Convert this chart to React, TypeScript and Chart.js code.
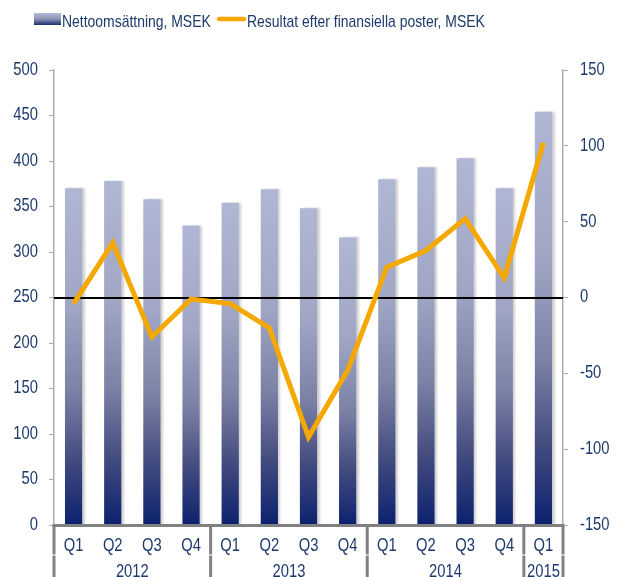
import React, { useEffect, useRef } from 'react';
import { Chart, registerables } from 'chart.js';

Chart.register(...registerables);

// ---- data ----
const quarters = ['Q1', 'Q2', 'Q3', 'Q4', 'Q1', 'Q2', 'Q3', 'Q4', 'Q1', 'Q2', 'Q3', 'Q4', 'Q1'];
const yearLabels = ['2012', '2013', '2014', '2015'];
const yearSpans = [4, 4, 4, 1];
const revenue = [370, 378, 358, 329, 354, 369, 348, 316, 380, 393, 403, 370, 454];
const result = [-4, 36, -26, -1, -4, -20, -92, -48, 20, 31, 52, 13, 102];
const revenueLabel = 'Nettoomsättning, MSEK';
const resultLabel = 'Resultat efter finansiella poster, MSEK';

const FONT = "'Liberation Sans', Arial, sans-serif";
const NARROW = 0.82; // Arial Narrow look: horizontally condensed Arial metrics
const NAVY = '#1c3a6c';
const AXIS_GRAY = '#a9acbd';
const BOX_GRAY = '#818181';
const ORANGE = '#f5a800';

function addBarStops(g: CanvasGradient) {
  g.addColorStop(0, '#b0b7d5');
  g.addColorStop(0.35, '#a0a6c4');
  g.addColorStop(0.6, '#7c82a6');
  g.addColorStop(0.8, '#454d80');
  g.addColorStop(1, '#0c216e');
}

const decoPlugin = {
  id: 'deco',
  beforeDatasetDraw(chart: any, args: any) {
    if (args.meta.type === 'bar') {
      const ctx = chart.ctx;
      ctx.save();
      ctx.shadowColor = 'rgba(0,0,0,0.18)';
      ctx.shadowOffsetX = 2.5;
      ctx.shadowOffsetY = 0;
      ctx.shadowBlur = 2;
    }
  },
  afterDatasetDraw(chart: any, args: any) {
    if (args.meta.type === 'bar') {
      const ctx = chart.ctx;
      ctx.restore();
      const { left, right } = chart.chartArea;
      const y = Math.round(chart.scales.y2.getPixelForValue(0));
      ctx.save();
      ctx.strokeStyle = '#000';
      ctx.lineWidth = 2;
      ctx.beginPath();
      ctx.moveTo(left, y);
      ctx.lineTo(right, y);
      ctx.stroke();
      ctx.restore();
    }
  },
  afterDraw(chart: any) {
    const ctx = chart.ctx;
    const { left, right, bottom } = chart.chartArea;
    const xs = chart.scales.x;
    const H = chart.height;
    ctx.save();
    const edges: number[] = [left];
    let idx = 0;
    yearSpans.forEach((span) => {
      idx += span;
      if (idx >= quarters.length) edges.push(right);
      else edges.push((xs.getPixelForValue(idx - 1) + xs.getPixelForValue(idx)) / 2);
    });
    ctx.strokeStyle = BOX_GRAY;
    ctx.lineWidth = 3;
    edges.forEach((x) => {
      ctx.beginPath();
      ctx.moveTo(x, bottom);
      ctx.lineTo(x, bottom + 29);
      ctx.stroke();
      ctx.beginPath();
      ctx.moveTo(x, bottom + 31);
      ctx.lineTo(x, H + 2);
      ctx.stroke();
    });
    ctx.strokeStyle = '#c4c4c4';
    edges.forEach((x) => {
      ctx.beginPath();
      ctx.moveTo(x, bottom + 29);
      ctx.lineTo(x, bottom + 31);
      ctx.stroke();
    });
    ctx.strokeStyle = BOX_GRAY;
    ctx.lineWidth = 3;
    ctx.beginPath();
    ctx.moveTo(left - 1.5, bottom + 0.5);
    ctx.lineTo(right + 1.5, bottom + 0.5);
    ctx.stroke();
    ctx.fillStyle = NAVY;
    ctx.font = `18px ${FONT}`;
    ctx.textAlign = 'center';
    ctx.textBaseline = 'alphabetic';
    yearLabels.forEach((lab, i) => {
      const cx = (edges[i] + edges[i + 1]) / 2;
      ctx.fillText(lab, cx, bottom + 52);
    });
    // legend
    const g = ctx.createLinearGradient(0, 13, 0, 25);
    g.addColorStop(0, '#b3b9d6');
    g.addColorStop(0.5, '#8e94b5');
    g.addColorStop(1, '#1a2d72');
    ctx.fillStyle = g;
    ctx.fillRect(34, 13, 27, 12);
    ctx.fillStyle = NAVY;
    ctx.font = `17px ${FONT}`;
    ctx.textAlign = 'left';
    ctx.fillText(revenueLabel, 62, 26.5);
    ctx.strokeStyle = ORANGE;
    ctx.lineWidth = 4.5;
    ctx.lineCap = 'round';
    ctx.beginPath();
    ctx.moveTo(219, 19);
    ctx.lineTo(244, 19);
    ctx.stroke();
    ctx.fillText(resultLabel, 247, 26.5);
    ctx.restore();
  },
};

export default function App() {
  const ref = useRef<HTMLCanvasElement | null>(null);

  useEffect(() => {
    if (!ref.current) return;
    const c2d = ref.current.getContext('2d') as any;
    const origFill = c2d.fillText.bind(c2d);
    c2d.fillText = (t: string, x: number, y: number, mw?: number) => {
      const w = c2d.measureText(t).width * NARROW;
      origFill(t, x, y, mw !== undefined && mw !== null ? Math.min(mw, w) : w);
    };
    const chart = new Chart(c2d, {
      type: 'bar',
      data: {
        labels: quarters,
        datasets: [
          {
            type: 'line',
            label: resultLabel,
            data: result,
            yAxisID: 'y2',
            borderColor: ORANGE,
            backgroundColor: ORANGE,
            borderWidth: 5,
            pointRadius: 0,
            tension: 0,
            order: 0,
          } as any,
          {
            type: 'bar',
            label: revenueLabel,
            data: revenue,
            yAxisID: 'y',
            barPercentage: 0.44,
            categoryPercentage: 1,
            backgroundColor: (c: any) => {
              const ch = c.chart;
              if (!ch.chartArea || c.type !== 'data') return '#8a90b0';
              const ys = ch.scales.y;
              const top = ys.getPixelForValue(revenue[c.dataIndex]);
              const bot = ys.getPixelForValue(0);
              const g = ch.ctx.createLinearGradient(0, top, 0, bot);
              addBarStops(g);
              return g;
            },
            order: 1,
          },
        ],
      },
      options: {
        responsive: false,
        animation: false,
        devicePixelRatio: 1,
        layout: { padding: { top: 70, left: 0, right: 0, bottom: 0 } },
        plugins: {
          legend: { display: false },
          tooltip: { enabled: false },
        },
        scales: {
          x: {
            type: 'category',
            position: 'bottom',
            grid: { display: false },
            border: { display: false },
            ticks: {
              color: NAVY,
              font: { family: FONT, size: 18 },
              padding: 2,
              maxRotation: 0,
              autoSkip: false,
            },
            afterFit: (s: any) => {
              s.height = 52;
            },
          },
          y: {
            position: 'left',
            min: 0,
            max: 500,
            ticks: {
              stepSize: 50,
              color: NAVY,
              font: { family: FONT, size: 18 },
              padding: 11,
            },
            grid: {
              drawOnChartArea: false,
              drawTicks: true,
              tickLength: 5,
              tickColor: AXIS_GRAY,
              color: AXIS_GRAY,
            },
            border: { display: true, color: AXIS_GRAY, width: 1.5 },
            afterFit: (s: any) => {
              s.width = 54;
            },
          },
          y2: {
            position: 'right',
            min: -150,
            max: 150,
            ticks: {
              stepSize: 50,
              color: NAVY,
              font: { family: FONT, size: 18 },
              padding: 12,
            },
            grid: {
              drawOnChartArea: false,
              drawTicks: true,
              tickLength: 5,
              tickColor: AXIS_GRAY,
              color: AXIS_GRAY,
            },
            border: { display: true, color: AXIS_GRAY, width: 1.5 },
            afterFit: (s: any) => {
              s.width = 59;
            },
          },
        },
      },
      plugins: [decoPlugin],
    });
    return () => chart.destroy();
  }, []);

  return (
    <div style={{ position: 'fixed', left: 0, top: 0, width: 622, height: 577, background: '#fff' }}>
      <canvas ref={ref} width={622} height={577} style={{ width: 622, height: 577, display: 'block' }} />
    </div>
  );
}
